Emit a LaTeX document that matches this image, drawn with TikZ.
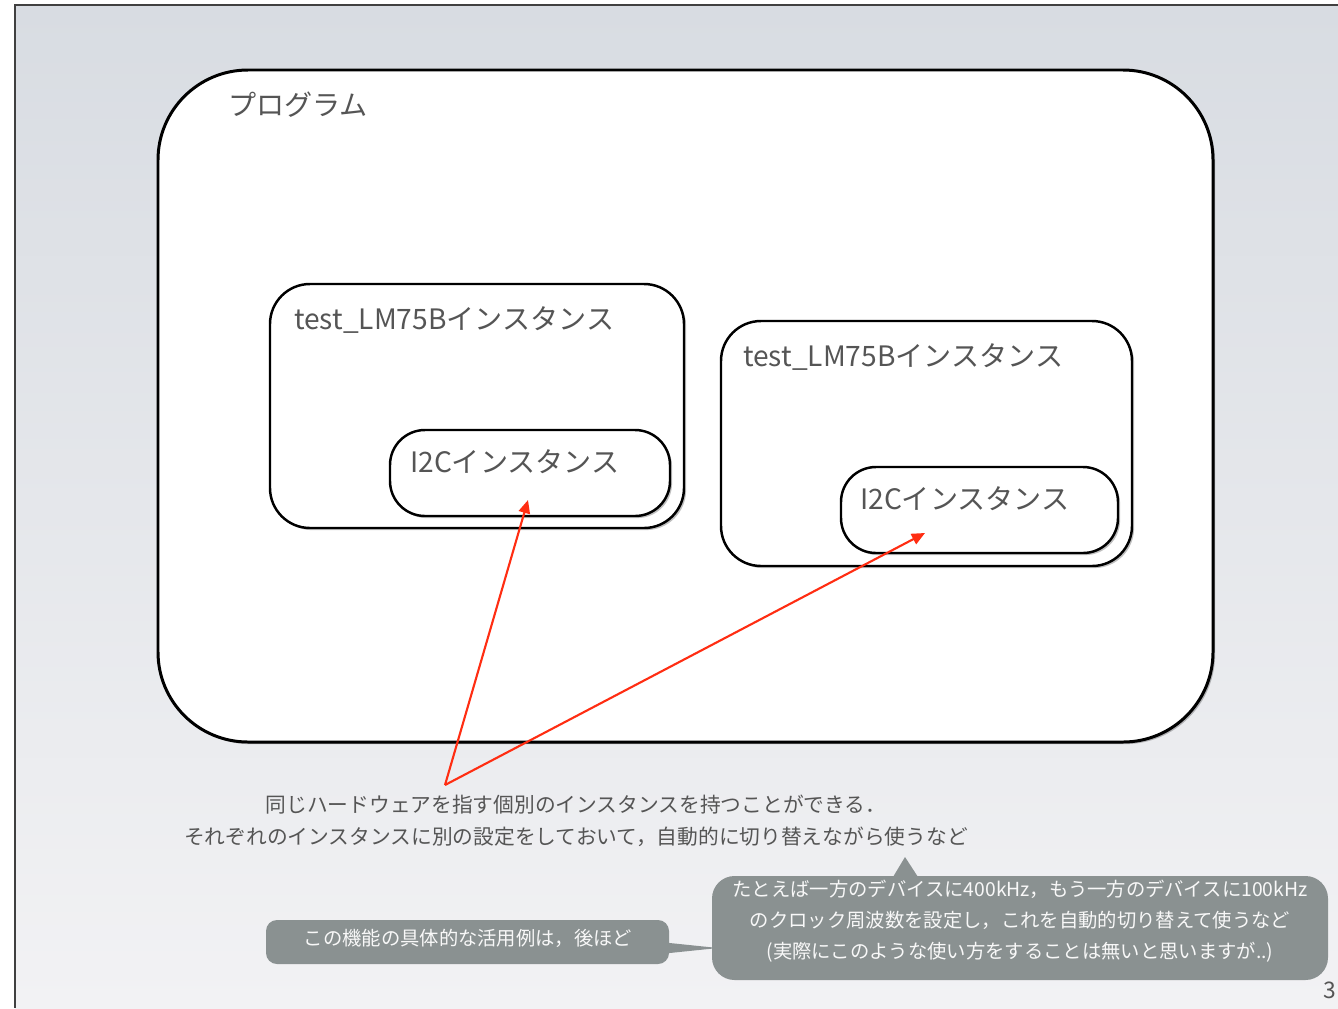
\documentclass[tikz,border=0pt]{standalone}
\usepackage{fontspec}
\setmainfont{Noto Sans CJK JP}
\usepackage{xcolor}
\usetikzlibrary{shadows, arrows.meta}
\definecolor{fondoA}{HTML}{D8DCE2}
\definecolor{fondoB}{HTML}{F2F2F4}
\definecolor{texto}{HTML}{555555}
\definecolor{globo}{HTML}{8A9191}
\definecolor{flecha}{HTML}{FF2D12}

\begin{document}
\begin{tikzpicture}[x=0.02cm, y=-0.02cm, > = {Triangle[length=7.5pt, width=6.5pt]},
    caja/.style={draw=black, fill=white, line width=1.4pt,
      drop shadow={fill=black, opacity=0.25, shadow xshift=1.2pt, shadow yshift=-1.2pt}},
    titulo/.style={anchor=west, text=texto, font=\fontsize{16}{20}\selectfont},
    nota/.style={text=texto, align=center, font=\fontsize{11.8}{18}\selectfont},
    globotxt/.style={text=white!94!globo, align=center, font=\fontsize{11}{17.5}\selectfont}]
	\useasboundingbox (0,0) rectangle (1338,1008);
	% fondo
	\fill[white] (0,0) rectangle (1338,1008);
	\shade[top color=fondoA, bottom color=fondoB] (15,5) rectangle (1338,1008);
	\draw[black!75, line width=0.8pt] (15,1008) -- (15,5) -- (1338,5);
	
	% programa
	\draw[caja, line width=1.7pt, rounded corners=1.8cm] (158,70) rectangle (1213,742);
	\node[titulo] (prog) at (222,105) {プログラム};
	
	% instancias
	\draw[caja, rounded corners=0.8cm] (270,284) rectangle (684,528);
	\node[titulo] (lmA) at (288,320) {test\_LM75Bインスタンス};
	\draw[caja, rounded corners=0.7cm] (390,430) rectangle (670,516);
	\node[titulo] (i2cA) at (404,462) {I2Cインスタンス};
	
	\draw[caja, rounded corners=0.8cm] (721,321) rectangle (1132,566);
	\node[titulo] (lmB) at (737,357) {test\_LM75Bインスタンス};
	\draw[caja, rounded corners=0.7cm] (841,467) rectangle (1118,553);
	\node[titulo] (i2cB) at (854,499) {I2Cインスタンス};
	
	% texto
	\node[nota] (expl) at (576,821) {同じハードウェアを指す個別のインスタンスを持つことができる．\\
		それぞれのインスタンスに別の設定をしておいて，自動的に切り替えながら使うなど};
	
	\coordinate (origen) at (445,785);
	\coordinate (puntaA) at (528,500);
	\coordinate (puntaB) at (925,533);
	\draw[->, flecha, line width=1.2pt] (origen) -- (puntaA);
	\draw[->, flecha, line width=1.2pt] (origen) -- (puntaB);
	
	% globos
	\fill[globo] (893,877) -- (905,857) -- (918,877) -- cycle;
	\fill[globo, rounded corners=0.45cm] (712,876) rectangle (1328,980);
	\node[globotxt] (ej) at (1020,921) {たとえば一方のデバイスに400kHz，もう一方のデバイスに100kHz\\
		のクロック周波数を設定し，これを自動的切り替えて使うなど\\
		(実際にこのような使い方をすることは無いと思いますが..)};
	
	\fill[globo] (660,942) -- (718,948) -- (660,954) -- cycle;
	\fill[globo, rounded corners=0.22cm] (266,920) rectangle (669,964);
	\node[globotxt] (luego) at (468,938) {この機能の具体的な活用例は，後ほど};
	
	\node[anchor=east, inner sep=1pt, text=texto, font=\fontsize{13}{15}\selectfont] (pag) at (1338,990) {3};
\end{tikzpicture}
\end{document}
